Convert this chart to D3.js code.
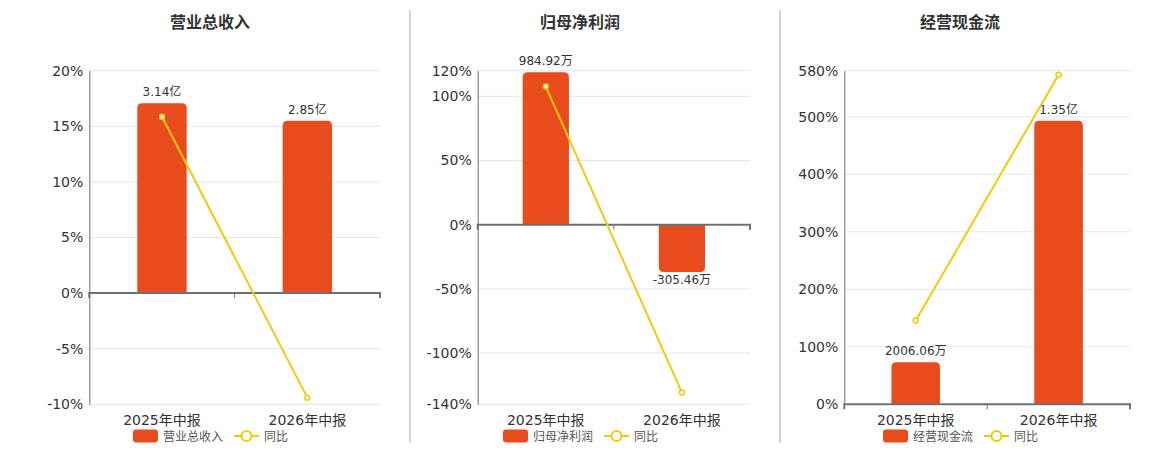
<!DOCTYPE html>
<html><head><meta charset="utf-8">
<script src="https://cdn.jsdelivr.net/npm/d3@7/dist/d3.min.js"></script>
<style>
html,body{margin:0;padding:0;background:#fff;}
svg{display:block;font-family:"DejaVu Sans","Noto Sans CJK SC",sans-serif;}
</style></head>
<body>
<svg id="chart" width="1160" height="450"></svg>
<script>
// ---- data ----
const categories = ["2025年中报", "2026年中报"];
const titles = ["营业总收入", "归母净利润", "经营现金流"];
// bar values in 万元
const revenueValues = [31400, 28500];
const profitValues = [984.92, -305.46];
const cashValues = [2006.06, 13500];
// 同比 (%)
const revenueYoY = [15.86, -9.4];
const profitYoY = [107.6, -130.9];
const cashYoY = [145.5, 573];
// y-axis tick labels (%)
const revenueTicks = [-10, -5, 0, 5, 10, 15, 20];
const profitTicks = [-140, -100, -50, 0, 50, 100, 120];
const cashTicks = [0, 100, 200, 300, 400, 500, 580];
// hidden bar-axis value at top of plot (万元)
const barAxisTop = [36800, 995, 15880];

const panels = [
  {title: titles[0], bars: revenueValues, yoy: revenueYoY, ticks: revenueTicks, barTop: barAxisTop[0], x0: 89.3, x1: 380, cx: 210},
  {title: titles[1], bars: profitValues, yoy: profitYoY, ticks: profitTicks, barTop: barAxisTop[1], x0: 477.7, x1: 750, cx: 580},
  {title: titles[2], bars: cashValues, yoy: cashYoY, ticks: cashTicks, barTop: barAxisTop[2], x0: 844.3, x1: 1130, cx: 960}
];

const BAR = "#E84C1C", LINE = "#F2CA0A", AXIS = "#6E7079", GRID = "#E0E6F1", TXT = "#333";
const yTop = 70.7, yBot = 404.3;
const svg = d3.select("#chart");

function fmt(v) {
  return Math.abs(v) >= 10000 ? (v / 10000).toFixed(2) + "亿" : v.toFixed(2) + "万";
}

// dividers
[410, 780].forEach(x => svg.append("line").attr("x1", x).attr("x2", x).attr("y1", 10).attr("y2", 443)
  .attr("stroke", "#aaa").attr("stroke-width", 1));

panels.forEach(p => {
  const g = svg.append("g");
  const ext = d3.extent(p.ticks);
  const y = d3.scaleLinear().domain(ext).range([yBot, yTop]);
  const yb = d3.scaleLinear().domain([0, p.barTop]).range([y(0), yTop]);
  const x = d3.scaleBand().domain(categories).range([p.x0, p.x1]).paddingInner(0).paddingOuter(0);
  const bw = x.bandwidth() * 0.34;

  // title
  g.append("text").attr("x", p.cx).attr("y", 28).attr("text-anchor", "middle")
    .attr("font-size", 16).attr("font-weight", "bold").attr("fill", TXT)
    .attr("font-family", "'Noto Sans CJK SC',sans-serif").text(p.title);

  // grid
  g.selectAll(".grid").data(p.ticks.filter(t => t !== 0)).join("line")
    .attr("x1", p.x0).attr("x2", p.x1).attr("y1", d => y(d)).attr("y2", d => y(d))
    .attr("stroke", GRID).attr("stroke-width", 1);

  // y axis
  const yAxis = d3.axisLeft(y).tickValues(p.ticks).tickFormat(d => d + "%").tickSize(0).tickPadding(6);
  const ya = g.append("g").attr("transform", `translate(${p.x0},0)`).call(yAxis);
  ya.select(".domain").attr("stroke", AXIS);
  ya.selectAll("text").attr("font-size", 14).attr("fill", TXT)
    .attr("font-family", "'DejaVu Sans',sans-serif");

  // bars
  g.selectAll(".bar").data(p.bars).join("path")
    .attr("fill", BAR)
    .attr("d", (d, i) => {
      const cx = x(categories[i]) + x.bandwidth() / 2;
      const l = cx - bw / 2, r = cx + bw / 2;
      const y0 = y(0), y1 = yb(d);
      const rr = Math.min(5, Math.abs(y1 - y0));
      if (d >= 0) {
        return `M${l},${y0}V${y1 + rr}Q${l},${y1} ${l + rr},${y1}H${r - rr}Q${r},${y1} ${r},${y1 + rr}V${y0}Z`;
      } else {
        return `M${l},${y0}V${y1 - rr}Q${l},${y1} ${l + rr},${y1}H${r - rr}Q${r},${y1} ${r},${y1 - rr}V${y0}Z`;
      }
    });

  // zero axis line with ticks
  const xAxis = d3.axisBottom(x).tickSize(5).tickFormat("");
  const xa = g.append("g").attr("transform", `translate(0,${y(0)})`).call(xAxis);
  xa.select(".domain").attr("stroke", AXIS).attr("stroke-width", 2).attr("d", `M${p.x0},5V0H${p.x1}V5`);
  xa.selectAll(".tick").remove();
  const bounds = [p.x0 + x.bandwidth(), p.x1];
  g.selectAll(".xt").data(bounds).join("line")
    .attr("x1", d => d).attr("x2", d => d).attr("y1", y(0)).attr("y2", y(0) + 5)
    .attr("stroke", AXIS).attr("stroke-width", 1);

  // category labels
  g.selectAll(".cat").data(categories).join("text")
    .attr("x", d => x(d) + x.bandwidth() / 2).attr("y", 425)
    .attr("text-anchor", "middle").attr("font-size", 14).attr("fill", TXT).text(d => d);

  // bar labels
  g.selectAll(".bl").data(p.bars).join("text")
    .attr("x", (d, i) => x(categories[i]) + x.bandwidth() / 2)
    .attr("y", d => d >= 0 ? yb(d) - 7 : yb(d) + 12)
    .attr("text-anchor", "middle").attr("font-size", 12).attr("fill", TXT).text(d => fmt(d));

  // yoy line
  const line = d3.line().x((d, i) => x(categories[i]) + x.bandwidth() / 2).y(d => y(d));
  g.append("path").datum(p.yoy).attr("d", line).attr("fill", "none").attr("stroke", LINE).attr("stroke-width", 2);
  g.selectAll(".pt").data(p.yoy).join("circle")
    .attr("cx", (d, i) => x(categories[i]) + x.bandwidth() / 2).attr("cy", d => y(d)).attr("r", 2.5)
    .attr("fill", "#fff").attr("stroke", LINE).attr("stroke-width", 1.5);

  // legend
  const lx = p.cx - 77, ly = 436;
  g.append("rect").attr("x", lx).attr("y", ly - 6.5).attr("width", 25).attr("height", 13).attr("rx", 3).attr("fill", BAR);
  g.append("text").attr("x", lx + 30).attr("y", ly + 4.5).attr("font-size", 12).attr("fill", "#555")
    .attr("font-family", "'Noto Sans CJK SC',sans-serif").text(p.title);
  const l2 = lx + 101;
  g.append("line").attr("x1", l2).attr("x2", l2 + 25).attr("y1", ly).attr("y2", ly).attr("stroke", LINE).attr("stroke-width", 2);
  g.append("circle").attr("cx", l2 + 12.5).attr("cy", ly).attr("r", 5).attr("fill", "#fff").attr("stroke", LINE).attr("stroke-width", 2);
  g.append("text").attr("x", l2 + 30).attr("y", ly + 4.5).attr("font-size", 12).attr("fill", "#555")
    .attr("font-family", "'Noto Sans CJK SC',sans-serif").text("同比");
});
</script>
</body></html>
